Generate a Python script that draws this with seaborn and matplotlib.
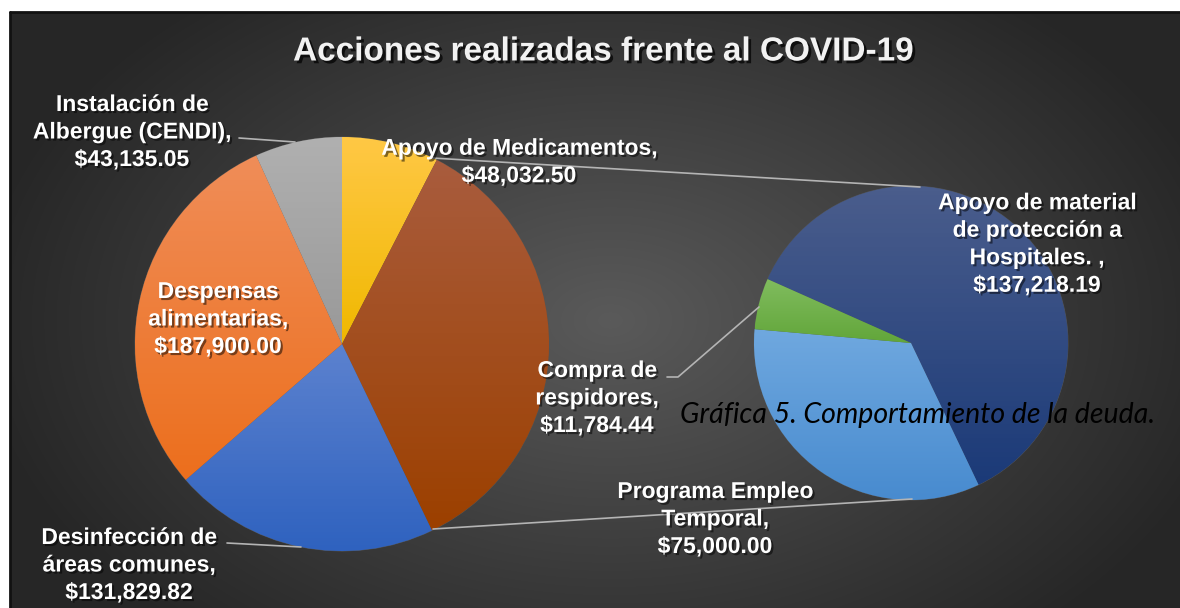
import numpy as np
import matplotlib.pyplot as plt
import matplotlib.patheffects as pe
from matplotlib.colors import to_rgb
import seaborn as sns

sns.set_theme(style="white")
plt.rcParams['font.family'] = ['Liberation Sans', 'DejaVu Sans']

# Datos
principales = ['Apoyo de Medicamentos', 'Desinfección de áreas comunes',
               'Despensas alimentarias', 'Instalación de Albergue (CENDI)']
montos_principales = [48032.50, 131829.82, 187900.00, 43135.05]

secundarias = ['Apoyo de material de protección a Hospitales. ',
               'Programa Empleo Temporal', 'Compra de respidores']
montos_secundarios = [137218.19, 75000.00, 11784.44]

W, H = 1180, 608


def Y(y):
    return H - y


def money(v):
    return '${:,.2f}'.format(v)


fig = plt.figure(figsize=(W / 100, H / 100), dpi=100)
fig.patch.set_facecolor('white')
ax = fig.add_axes([0, 0, 1, 1])

# fondo con degradado radial
xx, yy = np.meshgrid(np.arange(10, W), np.arange(12, H))
d = np.sqrt(((xx - 610) / 640.0) ** 2 + ((yy - 320) / 420.0) ** 2)
d = np.clip(d, 0, 1)
c_in, c_out = np.array(to_rgb('#5a5a5a')), np.array(to_rgb('#262626'))
bg = c_in[None, None, :] * (1 - d[..., None]) + c_out[None, None, :] * d[..., None]
ax.imshow(bg, extent=(10, W, 0, Y(12)), origin='upper', zorder=0)
ax.plot([10, 10], [0, Y(12)], color='#111111', lw=2, zorder=1)
ax.plot([10, W], [Y(12), Y(12)], color='#111111', lw=2, zorder=1)

# pastel principal
valores_izq = [montos_principales[0], sum(montos_secundarios)] + montos_principales[1:]
grad_izq = [('#FFC845', '#F0B800'), ('#A95C3D', '#9C4000'), ('#5C82CF', '#2F62BF'),
            ('#F08D58', '#EC6F1D'), ('#B0B0B0', '#999999')]
w_izq, _ = ax.pie(valores_izq, center=(342, Y(344)), radius=207, startangle=90,
                  counterclock=False, colors=[g[1] for g in grad_izq],
                  wedgeprops=dict(linewidth=0.6, edgecolor='#555555'))

# pastel secundario
grad_der = [('#4A5D8C', '#1B3A78'), ('#6FA8DF', '#488BCF'), ('#80BC5E', '#62A63A')]
w_der, _ = ax.pie(montos_secundarios, center=(911, Y(343)), radius=157, startangle=156,
                  counterclock=False, colors=[g[1] for g in grad_der],
                  wedgeprops=dict(linewidth=0.6, edgecolor='#555555'))


def degradado(wedge, top, bottom):
    ext = wedge.get_path().get_extents(wedge.get_transform() + ax.transData.inverted())
    t = np.linspace(0, 1, 64)[:, None]
    c1, c2 = np.array(to_rgb(top)), np.array(to_rgb(bottom))
    img = (c1 * (1 - t) + c2 * t)[:, None, :].repeat(2, axis=1)
    im = ax.imshow(img, extent=(ext.x0, ext.x1, ext.y0, ext.y1), origin='upper',
                   aspect='auto', zorder=3)
    im.set_clip_path(wedge)


for wdg, g in zip(w_izq, grad_izq):
    wdg.set_zorder(2)
    degradado(wdg, *g)
for wdg, g in zip(w_der, grad_der):
    wdg.set_zorder(2)
    degradado(wdg, *g)

# lineas de conexion y guias
gris = '#B4B4B4'
ax.plot([432, 920], [Y(158), Y(187)], color=gris, lw=1.2, zorder=4)
ax.plot([433, 912], [Y(529), Y(499)], color=gris, lw=1.2, zorder=4)
ax.plot([239, 295], [Y(138), Y(142)], color=gris, lw=1.2, zorder=4)
ax.plot([227, 301], [Y(543), Y(547)], color=gris, lw=1.2, zorder=4)
ax.plot([667, 678, 759], [Y(377), Y(377), Y(307)], color=gris, lw=1.2, zorder=4)

sombra = [pe.withSimplePatchShadow(offset=(1.5, -1.5), shadow_rgbFace='black', alpha=0.5)]
estilo = dict(color='white', fontsize=16.5, fontweight='bold', ha='center', va='center',
              multialignment='center', linespacing=1.25, zorder=6, path_effects=sombra)

ax.text(132, Y(132), 'Instalación de\nAlbergue (CENDI),\n' + money(montos_principales[3]), **estilo)
ax.text(519, Y(162), 'Apoyo de Medicamentos,\n' + money(montos_principales[0]), **estilo)
ax.text(218, Y(319), 'Despensas\nalimentarias,\n' + money(montos_principales[2]), **estilo)
ax.text(129, Y(565), 'Desinfección de\náreas comunes,\n' + money(montos_principales[1]), **estilo)
ax.text(1037, Y(244), 'Apoyo de material\nde protección a\nHospitales. ,\n' + money(montos_secundarios[0]), **estilo)
ax.text(597, Y(398), 'Compra de\nrespidores,\n' + money(montos_secundarios[2]), **estilo)
ax.text(715, Y(519), 'Programa Empleo\nTemporal,\n' + money(montos_secundarios[1]), **estilo)

ax.text(604, Y(52), 'Acciones realizadas frente al COVID-19', color='#F2F2F2', fontsize=24,
        fontweight='bold', ha='center', va='center', zorder=6,
        path_effects=[pe.withSimplePatchShadow(offset=(2, -2), shadow_rgbFace='black', alpha=0.7)])

ax.text(918, Y(415), 'Gráfica 5. Comportamiento de la deuda.', color='black', fontsize=20.5,
        style='italic', family=['Lato', 'DejaVu Sans'], ha='center', va='center', zorder=7)

ax.set_xlim(0, W)
ax.set_ylim(0, H)
ax.set_aspect('equal')
ax.axis('off')

fig.savefig('out.png', dpi=100, facecolor='white')
